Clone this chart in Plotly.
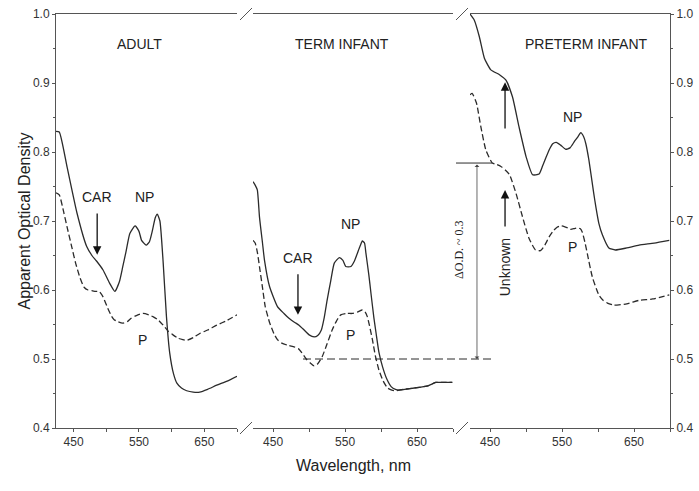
import plotly.graph_objects as go

# ---------------- data ----------------
# ADULT
adult_np_wl = [423, 428, 440, 455, 470, 478, 485, 495, 505, 513, 520, 525, 530, 536, 544, 550, 554, 561, 566, 570, 575, 578, 582, 587, 592, 597, 603, 608, 615, 623, 633, 643, 655, 669, 685, 700]
adult_np = [0.830, 0.829, 0.778, 0.712, 0.663, 0.650, 0.642, 0.629, 0.610, 0.598, 0.612, 0.633, 0.655, 0.682, 0.693, 0.685, 0.672, 0.665, 0.670, 0.684, 0.705, 0.710, 0.700, 0.640, 0.562, 0.509, 0.478, 0.465, 0.458, 0.454, 0.452, 0.452, 0.456, 0.462, 0.468, 0.475]
adult_p_wl = [423, 428, 435, 440, 447, 453, 460, 466, 472, 478, 484, 489, 495, 502, 508, 512, 518, 525, 532, 538, 546, 556, 565, 572, 579, 587, 595, 602, 610, 617, 623, 633, 643, 655, 669, 685, 700]
adult_p = [0.741, 0.738, 0.712, 0.691, 0.663, 0.639, 0.617, 0.604, 0.600, 0.599, 0.598, 0.598, 0.590, 0.574, 0.562, 0.557, 0.554, 0.552, 0.554, 0.559, 0.563, 0.566, 0.564, 0.561, 0.557, 0.549, 0.540, 0.535, 0.530, 0.528, 0.527, 0.531, 0.537, 0.542, 0.549, 0.556, 0.564]

# TERM INFANT
term_np_wl = [422, 425, 428, 431, 435, 438, 445, 456, 465, 472, 480, 486, 493, 500, 507, 512, 517, 521, 525, 530, 535, 542, 547, 551, 558, 563, 567, 571, 574, 577, 579, 583, 586, 590, 593, 597, 602, 608, 614, 620, 625, 640, 653, 665, 676, 688, 699]
term_np = [0.757, 0.752, 0.745, 0.706, 0.670, 0.643, 0.605, 0.576, 0.566, 0.559, 0.553, 0.549, 0.542, 0.535, 0.532, 0.534, 0.542, 0.560, 0.585, 0.613, 0.639, 0.647, 0.643, 0.634, 0.634, 0.642, 0.653, 0.664, 0.671, 0.668, 0.653, 0.622, 0.595, 0.560, 0.538, 0.510, 0.489, 0.471, 0.460, 0.456, 0.455, 0.457, 0.459, 0.461, 0.466, 0.466, 0.466]
term_p_wl = [422, 425, 428, 431, 435, 439, 445, 451, 456, 462, 470, 478, 485, 490, 496, 502, 507, 512, 518, 525, 532, 538, 544, 552, 560, 567, 574, 578, 581, 584, 588, 592, 597, 603, 609, 615, 620, 630, 640, 653, 665, 676, 688, 699]
term_p = [0.672, 0.668, 0.655, 0.634, 0.605, 0.576, 0.553, 0.537, 0.528, 0.523, 0.520, 0.518, 0.515, 0.509, 0.500, 0.494, 0.490, 0.493, 0.503, 0.522, 0.542, 0.555, 0.564, 0.566, 0.566, 0.568, 0.571, 0.568, 0.561, 0.548, 0.528, 0.505, 0.484, 0.468, 0.458, 0.455, 0.454, 0.456, 0.457, 0.459, 0.461, 0.466, 0.466, 0.466]

# PRETERM INFANT
pre_np_wl = [422, 428, 435, 442, 451, 463, 472, 481, 490, 500, 509, 518, 523, 528, 533, 537, 542, 548, 555, 561, 567, 572, 576, 580, 583, 587, 590, 594, 597, 601, 606, 615, 624, 640, 657, 678, 699]
pre_np = [1.0, 0.991, 0.967, 0.936, 0.919, 0.912, 0.904, 0.880, 0.837, 0.793, 0.767, 0.768, 0.780, 0.793, 0.805, 0.812, 0.814, 0.810, 0.804, 0.806, 0.815, 0.822, 0.828, 0.822, 0.812, 0.790, 0.769, 0.740, 0.720, 0.697, 0.680, 0.661, 0.658, 0.661, 0.665, 0.668, 0.672]
pre_p_wl = [422, 425, 431, 437, 444, 453, 459, 465, 471, 477, 486, 495, 504, 513, 520, 526, 532, 538, 543, 548, 553, 558, 562, 567, 571, 575, 578, 582, 585, 592, 601, 607, 613, 622, 640, 657, 676, 699]
pre_p = [0.883, 0.885, 0.871, 0.837, 0.803, 0.784, 0.782, 0.779, 0.774, 0.767, 0.740, 0.706, 0.675, 0.658, 0.657, 0.665, 0.677, 0.686, 0.691, 0.693, 0.692, 0.690, 0.688, 0.689, 0.690, 0.689, 0.684, 0.668, 0.653, 0.619, 0.593, 0.585, 0.581, 0.578, 0.580, 0.585, 0.587, 0.593]

x_tickvals = [450, 550, 650]
y_tickvals = [0.4, 0.5, 0.6, 0.7, 0.8, 0.9, 1.0]

# ---------------- figure ----------------
W, H = 699, 491
ML, MR, MT, MB = 56, 29, 14, 63
PW = W - ML - MR
PH = H - MT - MB


def px(x):
    return (x - ML) / PW


def py(y):
    return (H - MB - y) / PH


LINE = "#2b2b2b"
AX = "#555555"
FONT = "Liberation Sans, Arial, sans-serif"

fig = go.Figure()

panels = [
    ("x", "y", adult_np_wl, adult_np, adult_p_wl, adult_p),
    ("x2", "y2", term_np_wl, term_np, term_p_wl, term_p),
    ("x3", "y3", pre_np_wl, pre_np, pre_p_wl, pre_p),
]
for xa, ya, wl1, v1, wl2, v2 in panels:
    fig.add_trace(go.Scatter(x=wl2, y=v2, xaxis=xa, yaxis=ya, mode="lines",
                             line=dict(color=LINE, width=1.3, dash="6px,3px", shape="spline", smoothing=0.5),
                             showlegend=False, hoverinfo="skip"))
    fig.add_trace(go.Scatter(x=wl1, y=v1, xaxis=xa, yaxis=ya, mode="lines",
                             line=dict(color=LINE, width=1.3, shape="spline", smoothing=0.5),
                             showlegend=False, hoverinfo="skip"))

xcommon = dict(showline=True, linecolor=AX, linewidth=1, mirror=True, ticks="outside", ticklen=3,
               tickcolor=AX, tickvals=x_tickvals, showgrid=False, zeroline=False, automargin=False,
               tickfont=dict(family=FONT, size=12, color="#333"),
               minor=dict(tickvals=[500, 600, 700], ticks="outside", ticklen=3, tickcolor=AX))
ycommon = dict(range=[0.4, 1.0], showgrid=False, zeroline=False, tickvals=y_tickvals, automargin=False,
               tickformat=".1f", tickfont=dict(family=FONT, size=12, color="#333"))

fig.update_layout(
    width=W, height=H,
    margin=dict(l=ML, r=MR, t=MT, b=MB),
    paper_bgcolor="white", plot_bgcolor="white",
    xaxis=dict(domain=[0, px(237)], range=[423, 700], anchor="y", **xcommon),
    xaxis2=dict(domain=[px(253), px(453)], range=[422, 700], anchor="y2", **xcommon),
    xaxis3=dict(domain=[px(470), 1.0], range=[422, 700], anchor="y3", **xcommon),
    yaxis=dict(domain=[0, 1], anchor="x", showline=True, linecolor=AX, ticks="outside", ticklen=3,
               tickcolor=AX, minor=dict(dtick=0.05, ticks="outside", ticklen=2, tickcolor=AX), **ycommon),
    yaxis2=dict(domain=[0, 1], anchor="x2", showline=False, showticklabels=False, ticks="", **ycommon),
    yaxis3=dict(domain=[0, 1], anchor="x3", side="right", showline=True, linecolor=AX, ticks="outside",
                ticklen=3, tickcolor=AX, minor=dict(dtick=0.05, ticks="outside", ticklen=2, tickcolor=AX),
                **ycommon),
)

shapes = []
# axis break slashes
for x0 in (240, 456):
    for yc in (428, 14):
        shapes.append(dict(type="line", xref="paper", yref="paper",
                           x0=px(x0), y0=py(yc + 6), x1=px(x0 + 12), y1=py(yc - 6),
                           line=dict(color=AX, width=1)))
# reference line at 0.5 (dashed) and top tick of delta O.D.
shapes.append(dict(type="line", xref="paper", yref="y", x0=px(303), x1=px(493), y0=0.5, y1=0.5,
                   line=dict(color=LINE, width=1, dash="8px,4px")))
shapes.append(dict(type="line", xref="paper", yref="y", x0=px(456), x1=px(492), y0=0.784, y1=0.784,
                   line=dict(color=LINE, width=1)))
fig.update_layout(shapes=shapes)

ann = []


def txt(x, y, s, xref, yref, size=14, angle=0, family=FONT):
    ann.append(dict(x=x, y=y, xref=xref, yref=yref, text=s, showarrow=False, textangle=angle,
                    font=dict(family=family, size=size, color="#222")))


def arrow(x, y_tail, y_tip, xref, yref):
    ann.append(dict(x=x, y=y_tip, ax=x, ay=y_tail, xref=xref, yref=yref, axref=xref, ayref=yref,
                    text="", showarrow=True, arrowhead=2, arrowsize=1.3, arrowwidth=1.3,
                    arrowcolor="#111"))


# panel titles
txt(551.5, 0.9565, "ADULT", "x", "y")
txt(546, 0.9565, "TERM INFANT", "x2", "y2")
txt(584.6, 0.9565, "PRETERM INFANT", "x3", "y3")
# adult
txt(486, 0.735, "CAR", "x", "y")
arrow(486, 0.713, 0.651, "x", "y")
txt(559, 0.735, "NP", "x", "y")
txt(556, 0.528, "P", "x", "y")
# term
txt(484.5, 0.646, "CAR", "x2", "y2")
arrow(484.5, 0.625, 0.564, "x2", "y2")
txt(557, 0.696, "NP", "x2", "y2")
txt(557, 0.535, "P", "x2", "y2")
# preterm
txt(564, 0.851, "NP", "x3", "y3")
txt(564, 0.662, "P", "x3", "y3")
txt(470.7, 0.633, "Unknown", "x3", "y3", size=14, angle=-90)
arrow(470.7, 0.690, 0.745, "x3", "y3")
arrow(470.7, 0.832, 0.901, "x3", "y3")
# delta OD double arrow
ann.append(dict(x=431.7, y=0.5, ax=431.7, ay=0.784, xref="x3", yref="y3", axref="x3", ayref="y3",
                text="", showarrow=True, arrowhead=1, startarrowhead=1, arrowside="end+start",
                arrowsize=1, startarrowsize=1, arrowwidth=0.8, arrowcolor="#444"))
txt(px(468), 0.658, "ΔO.D. ~ 0.3", "paper", "y", size=12, angle=-90,
    family="Liberation Serif, Times New Roman, serif")
# axis titles
txt(px(13), 0.5, "Apparent Optical Density", "paper", "paper", size=16, angle=-90)
txt(px(353), py(476), "Wavelength, nm", "paper", "paper", size=16)

fig.update_layout(annotations=ann)

fig.write_html("out.html", config={"displayModeBar": False},
               post_script="document.body.style.margin='0';document.body.style.padding='0';")
